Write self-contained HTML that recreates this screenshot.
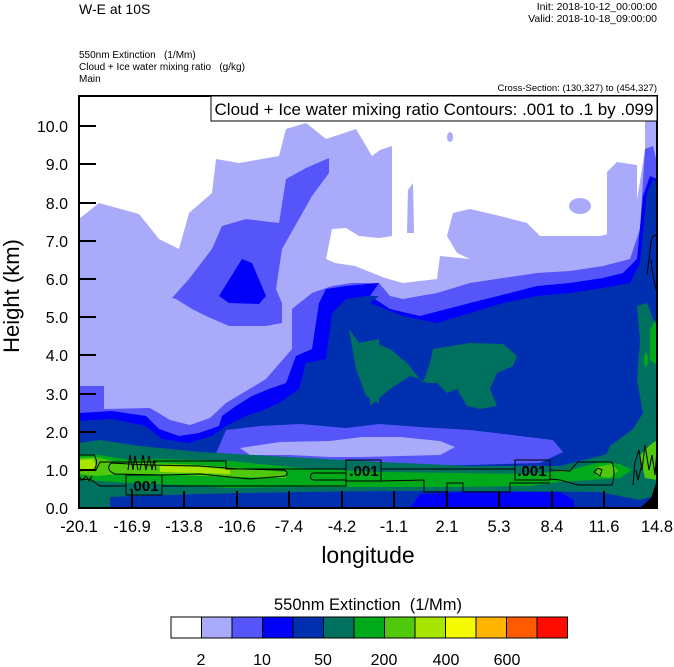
<!DOCTYPE html>
<html><head><meta charset="utf-8"><style>
html,body{margin:0;padding:0;background:#fff;}
svg{display:block;font-family:"Liberation Sans",Arial,sans-serif;}
text{white-space:pre;}
</style></head><body>
<svg width="674" height="667" viewBox="0 0 674 667" xmlns="http://www.w3.org/2000/svg">
<defs><clipPath id="pc"><rect x="79" y="96" width="578" height="412"/></clipPath></defs>
<text x="79" y="14" font-size="14">W-E at 10S</text>
<text x="657" y="10" font-size="10.5" text-anchor="end">Init: 2018-10-12_00:00:00</text>
<text x="657" y="22" font-size="10.5" text-anchor="end">Valid: 2018-10-18_09:00:00</text>
<text x="79" y="58" font-size="10">550nm Extinction   (1/Mm)</text>
<text x="79" y="70" font-size="10">Cloud + Ice water mixing ratio   (g/kg)</text>
<text x="79" y="82" font-size="10">Main</text>
<text x="657" y="91" font-size="9.5" text-anchor="end">Cross-Section: (130,327) to (454,327)</text>

<g clip-path="url(#pc)">
<rect x="79" y="96" width="578" height="412" fill="#aaaafa"/>
<polygon fill="#fff" points="79,96 645,96 645,150 637,200 633,228 600,236 560,236 540,236 527,223 500,216 470,209 453,213 447,236 457,253 470,259 440,256 437,279 403,283 385,278 370,272 355,266 335,263 326,259 332,229 346,228 359,236 379,238 392,236 392,146 380,150 372,156 356,129 326,139 306,123 286,129 279,156 239,163 216,159 212,193 189,213 179,249 159,239 139,214 99,203 79,219"/>
<polygon fill="#aaaafa" points="607,236 607,172 617,162 637,165 637,236"/>
<ellipse cx="580" cy="206" rx="11" ry="8" fill="#aaaafa"/>
<polygon fill="#aaaafa" points="407,233 408,190 413,183 414,233"/>
<ellipse cx="450" cy="137" rx="3" ry="5" fill="#aaaafa"/>
<polygon fill="#5555fa" points="172,298 189,279 212,249 222,226 246,219 279,223 286,179 306,168 329,158 329,173 312,196 299,219 282,249 276,289 282,303 282,323 266,326 229,326 206,316 192,309 176,299"/>
<polygon fill="#0000f8" points="219,296 242,259 252,263 266,296 259,304 229,303"/>
<polygon fill="#5555fa" points="79,386 104,386 104,409 150,408 170,420 190,425 210,418 226,403 266,379 292,349 292,309 312,293 332,286 352,283 379,283 390,296 403,299 437,293 470,283 503,278 537,273 570,271 603,266 630,259 640,229 645,149 653,146 657,163 657,508 79,508"/>
<polygon fill="#0000f8" points="79,413 112,411 146,416 159,429 179,436 199,433 219,426 222,416 236,406 252,396 269,389 286,383 296,356 312,349 319,303 326,289 346,286 379,283 370,296 390,309 420,316 470,303 510,293 537,286 570,283 603,278 623,273 637,259 643,196 650,176 657,179 657,508 79,508"/>
<polygon fill="#0030b0" points="79,421 112,419 146,426 162,439 189,443 212,436 226,426 246,416 266,409 279,403 299,389 306,363 326,359 332,313 346,299 366,296 379,296 370,303 403,316 437,323 470,313 503,303 537,296 570,293 603,288 630,283 640,263 647,193 653,179 657,183 657,508 79,508"/>
<polygon fill="#00705f" points="349,329 359,343 379,339 379,403 366,396 356,369"/>
<polygon fill="#00705f" points="370,341 390,349 407,363 423,383 430,363 433,349 470,343 503,344 517,356 513,366 497,373 490,389 497,406 480,409 467,406 457,389 447,393 437,383 427,383 420,379 410,376 390,389 370,406"/>
<polygon fill="#00705f" points="637,306 647,303 657,329 657,508 633,508 612,482 603,463 610,446 633,429 643,413 637,380 640,340"/>
<polygon fill="#00aa1a" points="650,330 655,320 657,330 657,365 650,360"/>
<ellipse cx="646" cy="360" rx="2" ry="7" fill="#00aa1a"/>
<polygon fill="#5555fa" points="226,430 260,426 300,424 346,428 379,424 420,427 470,430 520,436 553,440 563,452 540,463 470,465 400,466 300,466 226,466 215,456"/>
<polygon fill="#aaaafa" points="240,448 280,442 330,441 362,437 400,437 440,441 455,447 440,455 400,456 360,457 330,457 290,455 250,455"/>
<polygon fill="#aaaafa" points="346,443 379,438 379,456 346,456"/>
<polygon fill="#00705f" points="79,443 100,440 140,446 200,452 290,457 380,462 470,466 560,466 600,456 625,448 640,452 657,440 657,508 79,508"/>
<polygon fill="#0030b0" points="110,497 200,494 300,492 400,491 500,491 600,492 640,500 657,495 657,508 110,508"/>
<polygon fill="#0000f8" points="410,508 420,494 470,492 560,492 574,500 574,508"/>
<polygon fill="#00aa1a" points="79,455 100,455 130,460 160,459 230,461 300,468 380,472 460,473 530,474 570,470 600,462 620,464 632,470 620,478 590,480 560,482 530,486 460,487 380,487 300,487 229,488 180,485 130,483 100,481 79,480"/>
<polygon fill="#50c80c" points="79,458 96,457 120,463 156,463 200,465 240,468 286,472 286,478 240,477 200,476 156,474 120,474 96,476 79,474"/>
<polygon fill="#a8e600" points="79,460 93,459 96,465 93,470 79,472"/>
<polygon fill="#a8e600" points="160,466 200,467 230,470 230,474 200,473 160,472"/>
<polygon fill="#50c80c" points="596,467 612,464 618,471 610,478 596,476"/>
<polygon fill="#50c80c" points="640,455 650,445 657,440 657,480 645,478"/>
<polygon fill="#000" points="640,508 651,498 657,480 657,508"/>
</g>

<g fill="none" stroke="#000" stroke-width="1">
<path d="M79,455 L94,455 Q99,462 94,470 L79,470"/>
<path d="M79,471 L90,470 L96,470 L100,462 L156,462 L156,461 L226,461 L226,469 L346,469"/>
<path d="M381,469 L515,469"/>
<path d="M550,470 L570,471 L574,466 L578,462 L612,462 Q616,473 612,485 L578,485 L560,480 L550,479"/>
<path d="M79,480 L90,479 L100,486 L126,486"/>
<path d="M162,486 L346,486 L346,481"/>
<path d="M381,481 L424,480 L424,492 L447,492 L447,483 L463,483 L463,492 L510,492 L510,483 L550,483"/>
<path d="M111,463 Q105,470 115,474 L160,475 L200,474 L250,479 L285,476 Q290,473 284,470 L240,469 L200,466 L150,465 Z"/>
<path d="M311,475 Q309,480 315,480 L346,480 L346,473 L315,473 Q311,473 311,475"/>
<path d="M598,468 L594,472 L600,476 L602,470 L598,468"/>
<path d="M79,476 L82,480 L86,476 L89,481 L92,476"/>
<path d="M128,470 L130,455 L133,470 L135,456 L138,470"/>
<path d="M140,470 L143,455 L146,470 L149,456 L152,470 L154,460 L156,470"/>
<path d="M633,485 L635,462 L639,450 L642,470 L645,445 L649,470 L652,455 L655,475 L657,450"/>
<path d="M636,470 L638,480 L641,468"/>
<path d="M647,275 L649,260 L651,242 L653,236 L657,235"/>
<path d="M656,290 L652,270 L651,260"/>
</g>
<g font-size="15" font-weight="bold">
<rect x="126" y="475" width="36" height="20" fill="none" stroke="#000"/>
<text x="144" y="491" text-anchor="middle">.001</text>
<rect x="346" y="460" width="35" height="21" fill="none" stroke="#000"/>
<text x="364" y="476" text-anchor="middle">.001</text>
<rect x="515" y="460" width="35" height="20" fill="none" stroke="#000"/>
<text x="532" y="476" text-anchor="middle">.001</text>
</g>

<rect x="79" y="96" width="578" height="412" fill="none" stroke="#000" stroke-width="2"/>
<rect x="211" y="96" width="446" height="25" fill="#fff" stroke="#000" stroke-width="1"/>
<text x="434" y="115" font-size="17" text-anchor="middle">Cloud + Ice water mixing ratio Contours: .001 to .1 by .099</text>

<g stroke="#000" stroke-width="2">
<line x1="79" y1="126" x2="96" y2="126"/><line x1="79" y1="164" x2="96" y2="164"/>
<line x1="79" y1="203" x2="96" y2="203"/><line x1="79" y1="241" x2="96" y2="241"/>
<line x1="79" y1="279" x2="96" y2="279"/><line x1="79" y1="317" x2="96" y2="317"/>
<line x1="79" y1="355" x2="96" y2="355"/><line x1="79" y1="394" x2="96" y2="394"/>
<line x1="79" y1="432" x2="96" y2="432"/><line x1="79" y1="470" x2="96" y2="470"/>
<line x1="132" y1="491" x2="132" y2="508"/><line x1="184" y1="491" x2="184" y2="508"/>
<line x1="237" y1="491" x2="237" y2="508"/><line x1="289" y1="491" x2="289" y2="508"/>
<line x1="342" y1="491" x2="342" y2="508"/><line x1="394" y1="491" x2="394" y2="508"/>
<line x1="447" y1="491" x2="447" y2="508"/><line x1="499" y1="491" x2="499" y2="508"/>
<line x1="552" y1="491" x2="552" y2="508"/><line x1="604" y1="491" x2="604" y2="508"/>
</g>
<g font-size="16" text-anchor="end">
<text x="68" y="132">10.0</text><text x="68" y="170">9.0</text><text x="68" y="209">8.0</text>
<text x="68" y="247">7.0</text><text x="68" y="285">6.0</text><text x="68" y="323">5.0</text>
<text x="68" y="361">4.0</text><text x="68" y="400">3.0</text><text x="68" y="438">2.0</text>
<text x="68" y="476">1.0</text><text x="68" y="514">0.0</text>
</g>
<g font-size="16.5" text-anchor="middle">
<text x="79" y="532">-20.1</text><text x="132" y="532">-16.9</text><text x="184" y="532">-13.8</text>
<text x="237" y="532">-10.6</text><text x="289" y="532">-7.4</text><text x="342" y="532">-4.2</text>
<text x="394" y="532">-1.1</text><text x="447" y="532">2.1</text><text x="499" y="532">5.3</text>
<text x="552" y="532">8.4</text><text x="604" y="532">11.6</text><text x="657" y="532">14.8</text>
</g>
<text x="368" y="563" font-size="23" text-anchor="middle">longitude</text>
<text transform="translate(19,296) rotate(-90)" font-size="22" text-anchor="middle">Height (km)</text>

<text x="368" y="610" font-size="16.5" text-anchor="middle">550nm Extinction  (1/Mm)</text>
<g stroke="#000" stroke-width="1">
<rect x="171" y="617" width="30.5" height="21" fill="#ffffff"/>
<rect x="201.5" y="617" width="30.5" height="21" fill="#aaaafa"/>
<rect x="232" y="617" width="30.5" height="21" fill="#5555fa"/>
<rect x="262.5" y="617" width="30.5" height="21" fill="#0000f8"/>
<rect x="293" y="617" width="30.5" height="21" fill="#0030b0"/>
<rect x="323.5" y="617" width="30.5" height="21" fill="#00705f"/>
<rect x="354" y="617" width="30.5" height="21" fill="#00aa1a"/>
<rect x="384.5" y="617" width="30.5" height="21" fill="#50c80c"/>
<rect x="415" y="617" width="30.5" height="21" fill="#a8e600"/>
<rect x="445.5" y="617" width="30.5" height="21" fill="#f5fa00"/>
<rect x="476" y="617" width="30.5" height="21" fill="#ffb400"/>
<rect x="506.5" y="617" width="30.5" height="21" fill="#ff5a00"/>
<rect x="537" y="617" width="30.5" height="21" fill="#ff0c00"/>
</g>
<g font-size="16" text-anchor="middle">
<text x="201" y="665">2</text><text x="262" y="665">10</text><text x="323" y="665">50</text>
<text x="384" y="665">200</text><text x="446" y="665">400</text><text x="507" y="665">600</text>
</g>
</svg>
</body></html>
